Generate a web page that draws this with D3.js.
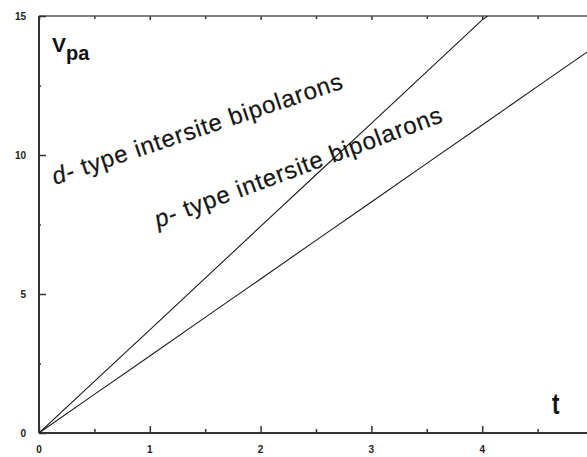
<!DOCTYPE html>
<html>
<head>
<meta charset="utf-8">
<script src="https://cdn.jsdelivr.net/npm/d3@7"></script>
<style>
  html, body { margin: 0; padding: 0; background: #fff; }
  svg { display: block; }
</style>
</head>
<body>
<script>
// Drift velocity of intersite bipolarons versus t
const tValues = [0, 0.5, 1, 1.5, 2, 2.5, 3, 3.5, 4, 4.05];
const dTypeValues = [0, 1.86, 3.71, 5.57, 7.43, 9.29, 11.14, 13.0, 14.86, 15.0];
const tValuesP = [0, 0.5, 1, 1.5, 2, 2.5, 3, 3.5, 4, 4.5, 5];
const pTypeValues = [0, 1.39, 2.77, 4.16, 5.54, 6.93, 8.31, 9.70, 11.08, 12.47, 13.85];
const xTicks = [0, 1, 2, 3, 4];
const yTicks = [0, 5, 10, 15];
const seriesLabels = ["d", "p"];
const labelRest = "- type intersite bipolarons";

const W = 587, H = 457;
const svg = d3.select("body").append("svg").attr("width", W).attr("height", H);

const x = d3.scaleLinear().domain([0, 5]).range([39, 593]);
const y = d3.scaleLinear().domain([0, 15]).range([433, 16]);

svg.append("defs").append("clipPath").attr("id", "plot")
  .append("rect").attr("x", x(0)).attr("y", y(15)).attr("width", x(5) - x(0)).attr("height", y(0) - y(15));

const axisColor = "#333";
const tickFont = "bold 10px 'Liberation Sans', Arial, sans-serif";

// bottom axis: inward ticks, labels below
const gBottom = svg.append("g").attr("transform", `translate(0,${y(0)})`)
  .call(d3.axisTop(x).tickValues(xTicks).tickSize(7).tickFormat(""));
gBottom.append("g").call(d3.axisTop(x).tickValues(d3.range(0.5, 5, 1)).tickSize(4).tickFormat(""));
gBottom.selectAll(".domain").remove();
svg.append("line").attr("x1", x(0)).attr("x2", W).attr("y1", y(0)).attr("y2", y(0))
  .attr("stroke", axisColor).attr("stroke-width", 2);
svg.selectAll(".xlab").data(xTicks).join("text")
  .attr("x", d => x(d)).attr("y", 453)
  .attr("text-anchor", "middle").style("font", tickFont).attr("fill", "#222")
  .text(d => d);

// top axis: ticks pointing down
const gTop = svg.append("g").attr("transform", `translate(0,${y(15)})`)
  .call(d3.axisBottom(x).tickValues(xTicks).tickSize(4).tickFormat(""));
gTop.append("g").call(d3.axisBottom(x).tickValues(d3.range(0.5, 5, 1)).tickSize(3).tickFormat(""));
gTop.selectAll(".domain").remove();
svg.append("line").attr("x1", x(0)).attr("x2", W).attr("y1", y(15)).attr("y2", y(15))
  .attr("stroke", "#555").attr("stroke-width", 1.5);

// left axis: ticks pointing right
const gLeft = svg.append("g").attr("transform", `translate(${x(0)},0)`)
  .call(d3.axisRight(y).tickValues(yTicks).tickSize(7).tickFormat(""));
gLeft.append("g").call(d3.axisRight(y).tickValues([2.5, 7.5, 12.5]).tickSize(2).tickFormat(""));
gLeft.selectAll(".domain").remove();
svg.append("line").attr("x1", x(0)).attr("x2", x(0)).attr("y1", y(15)).attr("y2", y(0))
  .attr("stroke", axisColor).attr("stroke-width", 2);
svg.selectAll(".ylab").data(yTicks).join("text")
  .attr("x", 26).attr("y", d => y(d) + 4)
  .attr("text-anchor", "end").style("font", tickFont).attr("fill", "#222")
  .text(d => d);

svg.selectAll(".tick line").attr("stroke", axisColor).attr("stroke-width", 1.5);

// the two velocity curves
const line = d3.line().x(d => x(d[0])).y(d => y(d[1]));
const plot = svg.append("g").attr("clip-path", "url(#plot)");
plot.append("path").datum(d3.zip(tValues, dTypeValues)).attr("d", line)
  .attr("fill", "none").attr("stroke", "#1a1a1a").attr("stroke-width", 1.1);
plot.append("path").datum(d3.zip(tValuesP, pTypeValues)).attr("d", line)
  .attr("fill", "none").attr("stroke", "#1a1a1a").attr("stroke-width", 1.1);

// axis titles
const vt = svg.append("text").attr("x", 52).attr("y", 52)
  .style("font", "bold 21px 'Liberation Sans', Arial, sans-serif").attr("fill", "#111");
vt.append("tspan").text("V");
vt.append("tspan").attr("dy", 8).style("font-size", "20px").text("pa");

svg.append("text").attr("transform", "translate(552,414) scale(0.75,1)")
  .style("font", "bold 30px 'Liberation Sans', Arial, sans-serif").attr("fill", "#111")
  .text("t");

// rotated curve annotations
const annos = [
  { key: seriesLabels[0], px: 55, py: 185, angle: -18.5 },
  { key: seriesLabels[1], px: 158, py: 228, angle: -20.4 }
];
annos.forEach(a => {
  const t = svg.append("text")
    .attr("transform", `translate(${a.px},${a.py}) rotate(${a.angle})`)
    .attr("textLength", 305).attr("lengthAdjust", "spacing")
    .style("font", "24px 'Liberation Sans', Arial, sans-serif")
    .attr("fill", "#151515").attr("stroke", "#151515").attr("stroke-width", 0.2);
  t.append("tspan").style("font-style", "italic").text(a.key);
  t.append("tspan").text(labelRest);
});
</script>
</body>
</html>
